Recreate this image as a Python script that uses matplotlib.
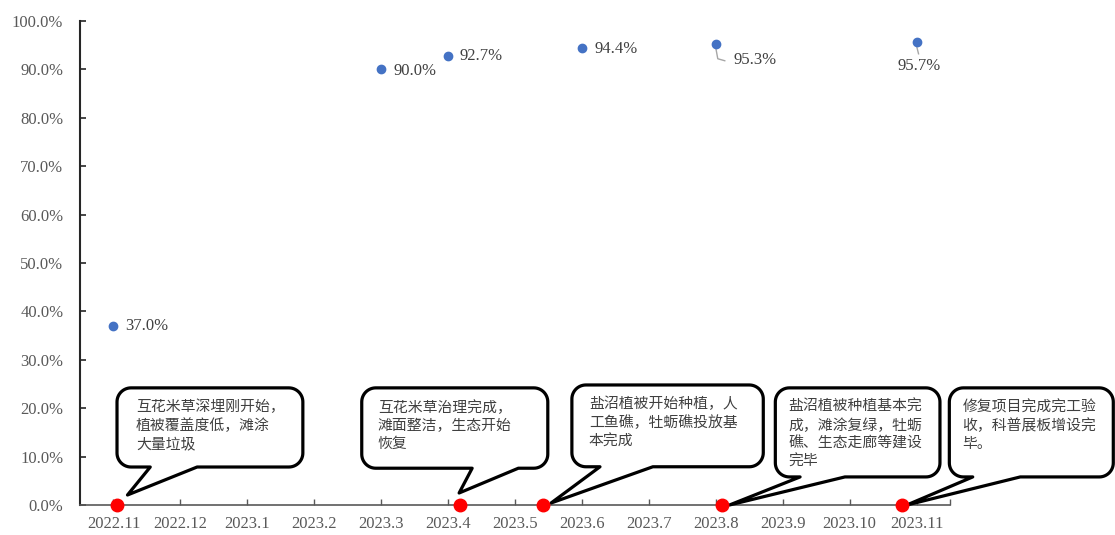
import numpy as np
import matplotlib
matplotlib.use('Agg')
import matplotlib.pyplot as plt
from matplotlib.patches import Polygon
from matplotlib.transforms import IdentityTransform
from matplotlib.ticker import FuncFormatter

# ---------------- data ----------------
months = ['2022.11', '2022.12', '2023.1', '2023.2', '2023.3', '2023.4', '2023.5',
          '2023.6', '2023.7', '2023.8', '2023.9', '2023.10', '2023.11']
coverage_month = ['2022.11', '2023.3', '2023.4', '2023.6', '2023.8', '2023.11']
coverage_pct = [37.0, 90.0, 92.7, 94.4, 95.3, 95.7]
coverage_label = ['37.0%', '90.0%', '92.7%', '94.4%', '95.3%', '95.7%']

event_pos = [0.06, 5.18, 6.42, 9.10, 11.78]   # position on month axis
event_text = [
    '互花米草深埋刚开始，\n植被覆盖度低，滩涂\n大量垃圾',
    '互花米草治理完成，\n滩面整洁，生态开始\n恢复',
    '盐沼植被开始种植，人\n工鱼礁，牡蛎礁投放基\n本完成',
    '盐沼植被种植基本完\n成，滩涂复绿，牡蛎\n礁、生态走廊等建设\n完毕',
    '修复项目完成完工验\n收，科普展板增设完\n毕。',
]

# ---------------- layout ----------------
W, H, DPI = 1115, 535, 100
SERIF = 'Liberation Serif'
CJK = ['Noto Sans CJK SC', 'DejaVu Sans']
GRAY = '#595959'

# label offsets (px, y up) and alignment for value labels
lab_dx = [12, 12, 11, 13, 18, 3]
lab_dy = [0, -2, 0, -1, -16, -24]
lab_ha = ['left', 'left', 'left', 'left', 'left', 'center']
# leader lines (px offsets from point) for some labels
leaders = {4: [(0, -4), (2, -15), (9, -17)], 5: [(0, -4), (2, -12)]}

# callout boxes in data units
box_left = [0.053, 3.71, 6.85, 9.89, 12.49]
box_right = [2.83, 6.49, 9.71, 12.35, 14.94]
box_top = [24.2, 24.2, 24.8, 24.2, 24.2]
box_bottom = [7.85, 7.6, 7.9, 5.8, 5.8]
wedge_l = [0.55, 5.36, 7.27, 10.26, 12.84]
wedge_r = [1.25, 6.05, 8.06, 10.93, 13.55]
tip_off = [(10, 10), (-1, 12), (8, 2), (7, 0), (5, 0)]
text_pad = [19, 16, 17, 13, 13]

fig = plt.figure(figsize=(W / DPI, H / DPI), dpi=DPI)
ax = fig.add_axes([80 / W, 30 / H, 870 / W, 484 / H])
ax.set_xlim(-0.5, 12.5)
ax.set_ylim(0, 100)

# axes styling
for s in ['top', 'right']:
    ax.spines[s].set_visible(False)
ax.spines['left'].set_color('#262626')
ax.spines['left'].set_linewidth(1.5)
ax.spines['bottom'].set_color(GRAY)
ax.spines['bottom'].set_linewidth(1.2)

ax.set_xticks(range(len(months)))
ax.set_xticklabels(months)
ax.set_xticks([12.5], minor=True)
ax.set_yticks(np.arange(0, 101, 10))
ax.yaxis.set_major_formatter(FuncFormatter(lambda v, p: f'{v:.1f}%'))
ax.tick_params(axis='x', which='both', direction='in', length=4, width=1, color=GRAY,
               pad=8, labelsize=12, labelcolor=GRAY)
ax.tick_params(axis='y', direction='in', length=4, width=1.2, color='#262626',
               pad=12, labelsize=12, labelcolor=GRAY)
for lab in ax.get_xticklabels() + ax.get_yticklabels():
    lab.set_fontfamily(SERIF)

# coverage points
cx = [months.index(m) for m in coverage_month]
ax.plot(cx, coverage_pct, 'o', color='#4472C4', ms=6, clip_on=False, zorder=5)
for i, (x, y, t) in enumerate(zip(cx, coverage_pct, coverage_label)):
    ax.annotate(t, xy=(x, y), xytext=(lab_dx[i] * 0.72, lab_dy[i] * 0.72),
                textcoords='offset points', ha=lab_ha[i], va='center',
                fontsize=12, family=SERIF, color='#404040', zorder=6)
    if i in leaders:
        px, py = ax.transData.transform((x, y))
        pts = np.array([(px + dx, py + dy) for dx, dy in leaders[i]])
        ax.plot(pts[:, 0], pts[:, 1], color='#A6A6A6', lw=1.0,
                transform=IdentityTransform(), clip_on=False, zorder=4)

# callouts
def callout_verts(l, r, t, b, bl, br, tip, rad):
    def arc(cxp, cyp, a0, a1):
        a = np.radians(np.linspace(a0, a1, 14))
        return list(zip(cxp + rad * np.cos(a), cyp + rad * np.sin(a)))
    v = [(br, b)]
    v += arc(r - rad, b + rad, -90, 0)
    v += arc(r - rad, t - rad, 0, 90)
    v += arc(l + rad, t - rad, 90, 180)
    v += arc(l + rad, b + rad, 180, 270)
    v += [(bl, b), tip]
    return v

for k in range(len(event_pos)):
    l, b = ax.transData.transform((box_left[k], box_bottom[k]))
    r, t = ax.transData.transform((box_right[k], box_top[k]))
    bl = ax.transData.transform((wedge_l[k], 0))[0]
    br = ax.transData.transform((wedge_r[k], 0))[0]
    ex, ey = ax.transData.transform((event_pos[k], 0))
    tip = (ex + tip_off[k][0], ey + tip_off[k][1])
    verts = callout_verts(l, r, t, b, bl, br, tip, 14)
    poly = Polygon(verts, closed=True, transform=IdentityTransform(), fc='white',
                   ec='black', lw=2.3, joinstyle='round', clip_on=False, zorder=3)
    ax.add_patch(poly)
    ax.text(l + text_pad[k], t - 12, event_text[k], transform=IdentityTransform(),
            ha='left', va='top', fontsize=10.7, family=CJK, color='#404040',
            linespacing=1.36, zorder=4, clip_on=False)

# event points
ax.plot(event_pos, [0] * len(event_pos), 'o', color='#FF0000', ms=9,
        clip_on=False, zorder=6)

fig.savefig('out.png', dpi=DPI)
